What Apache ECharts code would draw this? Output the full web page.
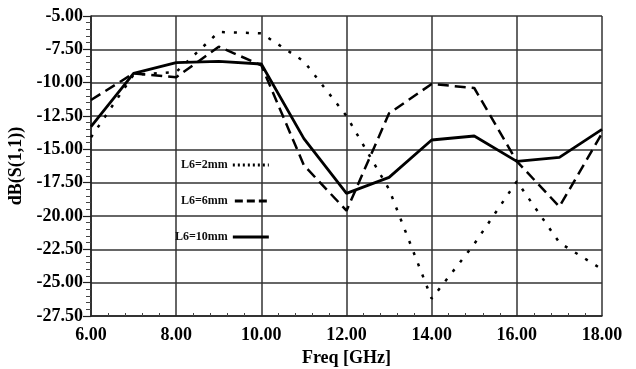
<!DOCTYPE html>
<html>
<head>
<meta charset="utf-8">
<script src="https://cdn.jsdelivr.net/npm/echarts@6/dist/echarts.min.js"></script>
<style>
  html, body { margin: 0; padding: 0; background: #fff; }
</style>
</head>
<body>
<div id="s11Chart" style="width:636px;height:369px;"></div>
<script>
// frequency points (GHz)
var freqs = [6, 7, 8, 9, 10, 11, 12, 13, 14, 15, 16, 17, 18];
// S11 in dB for each L6
var l6_2mm = [-14.1, -9.4, -9.2, -6.2, -6.3, -8.4, -12.5, -18.0, -26.2, -22.1, -17.4, -22.0, -24.0];
var l6_6mm = [-11.3, -9.3, -9.6, -7.3, -8.7, -16.2, -19.6, -12.3, -10.1, -10.4, -15.9, -19.3, -13.8];
var l6_10mm = [-13.3, -9.3, -8.5, -8.4, -8.6, -14.2, -18.3, -17.1, -14.3, -14.0, -15.9, -15.6, -13.5];
var seriesNames = ['L6=2mm', 'L6=6mm', 'L6=10mm'];

function pairs(ys) {
  var out = [];
  for (var i = 0; i < freqs.length; i++) {
    out.push([freqs[i], ys[i]]);
  }
  return out;
}

// legend samples drawn as paths (36 x 3) so the dash style shows
function dashIcon(dash, gap) {
  var p = 'path://';
  for (var x = 0; x < 36; x += dash + gap) {
    var w = Math.min(dash, 36 - x);
    p += 'M' + x + ',0h' + w + 'v3h-' + w + 'z';
  }
  return p;
}

var font = 'Liberation Serif';
var myChart = echarts.init(document.getElementById('s11Chart'));

var option = {
  animation: false,
  backgroundColor: '#fff',
  grid: { left: 91, right: 34, top: 16, bottom: 53, outerBoundsMode: 'none' },
  legend: {
    orient: 'vertical',
    left: 170,
    top: 154,
    align: 'right',
    itemWidth: 36,
    itemHeight: 3,
    itemGap: 24,
    textStyle: { fontFamily: font, fontWeight: 'bold', fontSize: 12, color: '#111' },
    data: [
      { name: seriesNames[0], icon: dashIcon(2, 3) },
      { name: seriesNames[1], icon: dashIcon(8, 4) },
      { name: seriesNames[2], icon: dashIcon(36, 0) }
    ]
  },
  xAxis: {
    type: 'value',
    min: 6,
    max: 18,
    interval: 2,
    name: 'Freq [GHz]',
    nameLocation: 'middle',
    nameGap: 26,
    nameTextStyle: { fontFamily: font, fontWeight: 'bold', fontSize: 18, color: '#000' },
    axisLine: { lineStyle: { color: '#222', width: 1.5 } },
    axisTick: { show: false },
    minorTick: { show: true, splitNumber: 5, length: -3, lineStyle: { color: '#444', width: 1 } },
    axisLabel: {
      margin: 10,
      fontFamily: font, fontWeight: 'bold', fontSize: 18, color: '#000',
      formatter: function (v) { return v.toFixed(2); }
    },
    splitLine: { show: true, lineStyle: { color: '#333', width: 1.5 } }
  },
  yAxis: {
    type: 'value',
    min: -27.5,
    max: -5,
    interval: 2.5,
    name: 'dB(S(1,1))',
    nameLocation: 'middle',
    nameGap: 60,
    nameTextStyle: { fontFamily: font, fontWeight: 'bold', fontSize: 18, color: '#000' },
    axisLine: { show: true, lineStyle: { color: '#222', width: 1.5 } },
    axisTick: { show: true, length: 8, lineStyle: { color: '#222', width: 1.2 } },
    minorTick: { show: true, splitNumber: 5, length: 5, lineStyle: { color: '#444', width: 1 } },
    axisLabel: {
      margin: 8,
      fontFamily: font, fontWeight: 'bold', fontSize: 18, color: '#000',
      formatter: function (v) { return v.toFixed(2); }
    },
    splitLine: { show: true, lineStyle: { color: '#333', width: 1.5 } }
  },
  series: [
    {
      name: seriesNames[0],
      type: 'line',
      symbol: 'none',
      data: pairs(l6_2mm),
      lineStyle: { color: '#000', width: 2.5, type: [3, 9] },
      itemStyle: { color: '#000' }
    },
    {
      name: seriesNames[1],
      type: 'line',
      symbol: 'none',
      data: pairs(l6_6mm),
      lineStyle: { color: '#000', width: 2.5, type: [11, 6] },
      itemStyle: { color: '#000' }
    },
    {
      name: seriesNames[2],
      type: 'line',
      symbol: 'none',
      data: pairs(l6_10mm),
      lineStyle: { color: '#000', width: 2.8, type: 'solid' },
      itemStyle: { color: '#000' }
    }
  ]
};

window.onresize = myChart.resize;
myChart.setOption(option);
</script>
</body>
</html>
